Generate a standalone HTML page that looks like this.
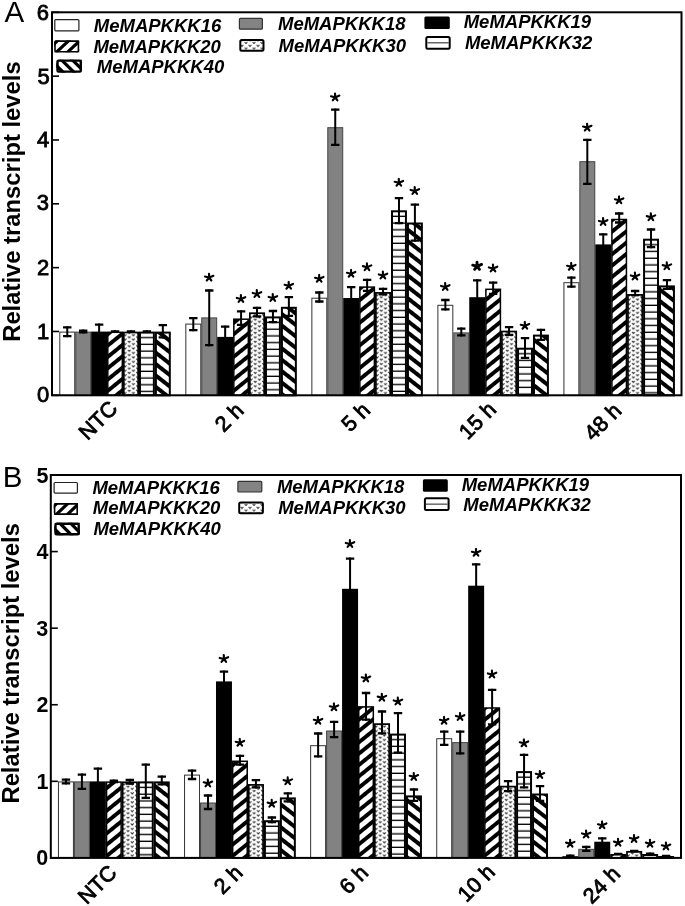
<!DOCTYPE html><html><head><meta charset="utf-8"><style>html,body{margin:0;padding:0;background:#fff;width:685px;height:906px;overflow:hidden}svg{position:absolute;left:0;top:0;display:block;will-change:transform}text{font-family:"Liberation Sans", sans-serif}</style></head><body>
<svg width="685" height="906" viewBox="0 0 685 906">
<defs>
<pattern id="pd" patternUnits="userSpaceOnUse" width="20" height="8.8" patternTransform="rotate(-39)"><rect width="20" height="8.8" fill="#fff"/><rect y="0" width="20" height="3.9" fill="#000"/></pattern>
<pattern id="pb" patternUnits="userSpaceOnUse" width="20" height="9.0" patternTransform="rotate(38)"><rect width="20" height="9.0" fill="#fff"/><rect y="0" width="20" height="4.0" fill="#000"/></pattern>
<pattern id="ph" patternUnits="userSpaceOnUse" width="16" height="6.73"><rect width="16" height="6.73" fill="#fff"/><rect y="1.8" width="16" height="1.5" fill="#111"/></pattern>
<pattern id="pdot" patternUnits="userSpaceOnUse" width="9.2" height="4.45"><rect width="9.2" height="4.45" fill="#fff"/><path d="M0.9,0.4 L2.3,2.2 L3.7,0.4 M5.5,2.6 L6.9,4.4 L8.3,2.6" stroke="#222" stroke-width="1.1" fill="none"/></pattern>
<pattern id="pdotl" patternUnits="userSpaceOnUse" width="8" height="5.5"><rect width="8" height="5.5" fill="#fff"/><path d="M0.6,0.8 L2,2.4 L3.4,0.8 M4.6,3.5 L6,5.1 L7.4,3.5" stroke="#333" stroke-width="1.0" fill="none"/></pattern>
</defs>
<rect x="59.80" y="332.10" width="14.93" height="63.20" fill="#fff" stroke="#333" stroke-width="1"/>
<rect x="75.73" y="332.10" width="14.93" height="63.20" fill="#828282" stroke="#444" stroke-width="1"/>
<rect x="91.16" y="331.60" width="15.93" height="63.70" fill="#000"/>
<rect x="107.79" y="332.30" width="14.53" height="63.00" fill="url(#pd)" stroke="#000" stroke-width="1.5"/>
<pattern id="pdb1" patternUnits="userSpaceOnUse" x="123.02" y="395.30" width="8.4" height="4.45"><rect x="-1" y="-1" width="11" height="7" fill="#fff"/><path d="M0.65,1.15 L2.00,2.80 L3.35,1.15 M4.85,3.35 L6.20,5.00 L7.55,3.35 M4.85,-1.10 L6.20,0.55 L7.55,-1.10 M9.05,1.15 L10.40,2.80 L11.75,1.15 " stroke="#2a2a2a" stroke-width="1.05" fill="none"/></pattern><rect x="123.82" y="332.50" width="14.33" height="62.80" fill="url(#pdb1)" stroke="#000" stroke-width="1.7"/>
<pattern id="phb2" patternUnits="userSpaceOnUse" x="0" y="331.60" width="16" height="6.73"><rect width="16" height="6.73" fill="#fff"/><rect y="5.4" width="16" height="1.7" fill="#000"/></pattern><rect x="139.95" y="332.60" width="13.93" height="62.70" fill="url(#phb2)" stroke="#000" stroke-width="2"/>
<rect x="155.88" y="332.60" width="13.93" height="62.70" fill="url(#pb)" stroke="#000" stroke-width="2"/>
<rect x="185.83" y="324.10" width="14.93" height="71.20" fill="#fff" stroke="#333" stroke-width="1"/>
<rect x="201.76" y="317.90" width="14.93" height="77.40" fill="#828282" stroke="#444" stroke-width="1"/>
<rect x="217.19" y="336.90" width="15.93" height="58.40" fill="#000"/>
<rect x="233.82" y="319.20" width="14.53" height="76.10" fill="url(#pd)" stroke="#000" stroke-width="1.5"/>
<pattern id="pdb3" patternUnits="userSpaceOnUse" x="249.05" y="395.30" width="8.4" height="4.45"><rect x="-1" y="-1" width="11" height="7" fill="#fff"/><path d="M0.65,1.15 L2.00,2.80 L3.35,1.15 M4.85,3.35 L6.20,5.00 L7.55,3.35 M4.85,-1.10 L6.20,0.55 L7.55,-1.10 M9.05,1.15 L10.40,2.80 L11.75,1.15 " stroke="#2a2a2a" stroke-width="1.05" fill="none"/></pattern><rect x="249.85" y="313.20" width="14.33" height="82.10" fill="url(#pdb3)" stroke="#000" stroke-width="1.7"/>
<pattern id="phb4" patternUnits="userSpaceOnUse" x="0" y="316.40" width="16" height="6.73"><rect width="16" height="6.73" fill="#fff"/><rect y="5.4" width="16" height="1.7" fill="#000"/></pattern><rect x="265.98" y="317.40" width="13.93" height="77.90" fill="url(#phb4)" stroke="#000" stroke-width="2"/>
<rect x="281.91" y="307.80" width="13.93" height="87.50" fill="url(#pb)" stroke="#000" stroke-width="2"/>
<rect x="311.86" y="298.20" width="14.93" height="97.10" fill="#fff" stroke="#333" stroke-width="1"/>
<rect x="327.79" y="127.70" width="14.93" height="267.60" fill="#828282" stroke="#444" stroke-width="1"/>
<rect x="343.22" y="298.00" width="15.93" height="97.30" fill="#000"/>
<rect x="359.85" y="287.10" width="14.53" height="108.20" fill="url(#pd)" stroke="#000" stroke-width="1.5"/>
<pattern id="pdb5" patternUnits="userSpaceOnUse" x="375.08" y="395.30" width="8.4" height="4.45"><rect x="-1" y="-1" width="11" height="7" fill="#fff"/><path d="M0.65,1.15 L2.00,2.80 L3.35,1.15 M4.85,3.35 L6.20,5.00 L7.55,3.35 M4.85,-1.10 L6.20,0.55 L7.55,-1.10 M9.05,1.15 L10.40,2.80 L11.75,1.15 " stroke="#2a2a2a" stroke-width="1.05" fill="none"/></pattern><rect x="375.88" y="292.90" width="14.33" height="102.40" fill="url(#pdb5)" stroke="#000" stroke-width="1.7"/>
<pattern id="phb6" patternUnits="userSpaceOnUse" x="0" y="210.30" width="16" height="6.73"><rect width="16" height="6.73" fill="#fff"/><rect y="5.4" width="16" height="1.7" fill="#000"/></pattern><rect x="392.01" y="211.30" width="13.93" height="184.00" fill="url(#phb6)" stroke="#000" stroke-width="2"/>
<rect x="407.94" y="223.50" width="13.93" height="171.80" fill="url(#pb)" stroke="#000" stroke-width="2"/>
<rect x="437.89" y="305.30" width="14.93" height="90.00" fill="#fff" stroke="#333" stroke-width="1"/>
<rect x="453.82" y="332.90" width="14.93" height="62.40" fill="#828282" stroke="#444" stroke-width="1"/>
<rect x="469.25" y="297.20" width="15.93" height="98.10" fill="#000"/>
<rect x="485.88" y="289.30" width="14.53" height="106.00" fill="url(#pd)" stroke="#000" stroke-width="1.5"/>
<pattern id="pdb7" patternUnits="userSpaceOnUse" x="501.11" y="395.30" width="8.4" height="4.45"><rect x="-1" y="-1" width="11" height="7" fill="#fff"/><path d="M0.65,1.15 L2.00,2.80 L3.35,1.15 M4.85,3.35 L6.20,5.00 L7.55,3.35 M4.85,-1.10 L6.20,0.55 L7.55,-1.10 M9.05,1.15 L10.40,2.80 L11.75,1.15 " stroke="#2a2a2a" stroke-width="1.05" fill="none"/></pattern><rect x="501.91" y="331.50" width="14.33" height="63.80" fill="url(#pdb7)" stroke="#000" stroke-width="1.7"/>
<pattern id="phb8" patternUnits="userSpaceOnUse" x="0" y="347.70" width="16" height="6.73"><rect width="16" height="6.73" fill="#fff"/><rect y="5.4" width="16" height="1.7" fill="#000"/></pattern><rect x="518.04" y="348.70" width="13.93" height="46.60" fill="url(#phb8)" stroke="#000" stroke-width="2"/>
<rect x="533.97" y="335.60" width="13.93" height="59.70" fill="url(#pb)" stroke="#000" stroke-width="2"/>
<rect x="563.92" y="282.70" width="14.93" height="112.60" fill="#fff" stroke="#333" stroke-width="1"/>
<rect x="579.85" y="161.70" width="14.93" height="233.60" fill="#828282" stroke="#444" stroke-width="1"/>
<rect x="595.28" y="244.40" width="15.93" height="150.90" fill="#000"/>
<rect x="611.91" y="219.50" width="14.53" height="175.80" fill="url(#pd)" stroke="#000" stroke-width="1.5"/>
<pattern id="pdb9" patternUnits="userSpaceOnUse" x="627.14" y="395.30" width="8.4" height="4.45"><rect x="-1" y="-1" width="11" height="7" fill="#fff"/><path d="M0.65,1.15 L2.00,2.80 L3.35,1.15 M4.85,3.35 L6.20,5.00 L7.55,3.35 M4.85,-1.10 L6.20,0.55 L7.55,-1.10 M9.05,1.15 L10.40,2.80 L11.75,1.15 " stroke="#2a2a2a" stroke-width="1.05" fill="none"/></pattern><rect x="627.94" y="294.90" width="14.33" height="100.40" fill="url(#pdb9)" stroke="#000" stroke-width="1.7"/>
<pattern id="phb10" patternUnits="userSpaceOnUse" x="0" y="238.70" width="16" height="6.73"><rect width="16" height="6.73" fill="#fff"/><rect y="5.4" width="16" height="1.7" fill="#000"/></pattern><rect x="644.07" y="239.70" width="13.93" height="155.60" fill="url(#phb10)" stroke="#000" stroke-width="2"/>
<rect x="660.00" y="286.40" width="13.93" height="108.90" fill="url(#pb)" stroke="#000" stroke-width="2"/>
<path d="M67.27,326.20 V337.20" stroke="#000" stroke-width="2.0" fill="none"/><path d="M63.06,327.30 h8.4 M63.06,336.10 h8.4" stroke="#000" stroke-width="2.3" fill="none"/>
<path d="M83.19,329.50 V333.50" stroke="#000" stroke-width="2.0" fill="none"/><path d="M78.99,330.60 h8.4 M78.99,332.40 h8.4" stroke="#000" stroke-width="2.3" fill="none"/>
<path d="M99.12,323.50 V339.50" stroke="#000" stroke-width="2.0" fill="none"/><path d="M94.92,324.60 h8.4 M94.92,338.40 h8.4" stroke="#000" stroke-width="2.3" fill="none"/>
<path d="M115.06,330.20 V333.00" stroke="#000" stroke-width="2.0" fill="none"/><path d="M110.86,331.30 h8.4 M110.86,331.90 h8.4" stroke="#000" stroke-width="2.3" fill="none"/>
<path d="M130.98,330.20 V333.00" stroke="#000" stroke-width="2.0" fill="none"/><path d="M126.78,331.30 h8.4 M126.78,331.90 h8.4" stroke="#000" stroke-width="2.3" fill="none"/>
<path d="M146.91,330.20 V333.00" stroke="#000" stroke-width="2.0" fill="none"/><path d="M142.72,331.30 h8.4 M142.72,331.90 h8.4" stroke="#000" stroke-width="2.3" fill="none"/>
<path d="M162.84,324.00 V338.50" stroke="#000" stroke-width="2.0" fill="none"/><path d="M158.65,325.10 h8.4 M158.65,337.40 h8.4" stroke="#000" stroke-width="2.3" fill="none"/>
<path d="M193.29,317.00 V331.30" stroke="#000" stroke-width="2.0" fill="none"/><path d="M189.09,318.10 h8.4 M189.09,330.20 h8.4" stroke="#000" stroke-width="2.3" fill="none"/>
<path d="M209.22,289.40 V346.30" stroke="#000" stroke-width="2.0" fill="none"/><path d="M205.03,290.50 h8.4 M205.03,345.20 h8.4" stroke="#000" stroke-width="2.3" fill="none"/>
<path d="M209.22,277.60 l-0.21,-3.85 M209.22,277.60 l-4.28,-1.07 M209.22,277.60 l4.17,-1.82 M209.22,277.60 l-2.46,2.89 M209.22,277.60 l2.14,2.89 " stroke="#000" stroke-width="2.15" stroke-linecap="round" fill="none"/>
<path d="M225.16,325.60 V348.00" stroke="#000" stroke-width="2.0" fill="none"/><path d="M220.96,326.70 h8.4 M220.96,346.90 h8.4" stroke="#000" stroke-width="2.3" fill="none"/>
<path d="M241.08,310.30 V326.00" stroke="#000" stroke-width="2.0" fill="none"/><path d="M236.88,311.40 h8.4 M236.88,324.90 h8.4" stroke="#000" stroke-width="2.3" fill="none"/>
<path d="M241.08,299.00 l-0.21,-3.85 M241.08,299.00 l-4.28,-1.07 M241.08,299.00 l4.17,-1.82 M241.08,299.00 l-2.46,2.89 M241.08,299.00 l2.14,2.89 " stroke="#000" stroke-width="2.15" stroke-linecap="round" fill="none"/>
<path d="M257.01,306.80 V317.40" stroke="#000" stroke-width="2.0" fill="none"/><path d="M252.81,307.90 h8.4 M252.81,316.30 h8.4" stroke="#000" stroke-width="2.3" fill="none"/>
<path d="M257.01,294.00 l-0.21,-3.85 M257.01,294.00 l-4.28,-1.07 M257.01,294.00 l4.17,-1.82 M257.01,294.00 l-2.46,2.89 M257.01,294.00 l2.14,2.89 " stroke="#000" stroke-width="2.15" stroke-linecap="round" fill="none"/>
<path d="M272.94,309.90 V323.20" stroke="#000" stroke-width="2.0" fill="none"/><path d="M268.75,311.00 h8.4 M268.75,322.10 h8.4" stroke="#000" stroke-width="2.3" fill="none"/>
<path d="M272.94,298.00 l-0.21,-3.85 M272.94,298.00 l-4.28,-1.07 M272.94,298.00 l4.17,-1.82 M272.94,298.00 l-2.46,2.89 M272.94,298.00 l2.14,2.89 " stroke="#000" stroke-width="2.15" stroke-linecap="round" fill="none"/>
<path d="M288.87,296.00 V317.00" stroke="#000" stroke-width="2.0" fill="none"/><path d="M284.67,297.10 h8.4 M284.67,315.90 h8.4" stroke="#000" stroke-width="2.3" fill="none"/>
<path d="M288.87,285.80 l-0.21,-3.85 M288.87,285.80 l-4.28,-1.07 M288.87,285.80 l4.17,-1.82 M288.87,285.80 l-2.46,2.89 M288.87,285.80 l2.14,2.89 " stroke="#000" stroke-width="2.15" stroke-linecap="round" fill="none"/>
<path d="M319.32,291.40 V302.60" stroke="#000" stroke-width="2.0" fill="none"/><path d="M315.12,292.50 h8.4 M315.12,301.50 h8.4" stroke="#000" stroke-width="2.3" fill="none"/>
<path d="M319.32,278.80 l-0.21,-3.85 M319.32,278.80 l-4.28,-1.07 M319.32,278.80 l4.17,-1.82 M319.32,278.80 l-2.46,2.89 M319.32,278.80 l2.14,2.89 " stroke="#000" stroke-width="2.15" stroke-linecap="round" fill="none"/>
<path d="M335.25,108.50 V146.00" stroke="#000" stroke-width="2.0" fill="none"/><path d="M331.06,109.60 h8.4 M331.06,144.90 h8.4" stroke="#000" stroke-width="2.3" fill="none"/>
<path d="M335.25,97.40 l-0.21,-3.85 M335.25,97.40 l-4.28,-1.07 M335.25,97.40 l4.17,-1.82 M335.25,97.40 l-2.46,2.89 M335.25,97.40 l2.14,2.89 " stroke="#000" stroke-width="2.15" stroke-linecap="round" fill="none"/>
<path d="M351.19,286.10 V310.00" stroke="#000" stroke-width="2.0" fill="none"/><path d="M346.99,287.20 h8.4 M346.99,308.90 h8.4" stroke="#000" stroke-width="2.3" fill="none"/>
<path d="M351.19,273.80 l-0.21,-3.85 M351.19,273.80 l-4.28,-1.07 M351.19,273.80 l4.17,-1.82 M351.19,273.80 l-2.46,2.89 M351.19,273.80 l2.14,2.89 " stroke="#000" stroke-width="2.15" stroke-linecap="round" fill="none"/>
<path d="M367.12,278.80 V292.00" stroke="#000" stroke-width="2.0" fill="none"/><path d="M362.92,279.90 h8.4 M362.92,290.90 h8.4" stroke="#000" stroke-width="2.3" fill="none"/>
<path d="M367.12,267.20 l-0.21,-3.85 M367.12,267.20 l-4.28,-1.07 M367.12,267.20 l4.17,-1.82 M367.12,267.20 l-2.46,2.89 M367.12,267.20 l2.14,2.89 " stroke="#000" stroke-width="2.15" stroke-linecap="round" fill="none"/>
<path d="M383.05,287.70 V295.40" stroke="#000" stroke-width="2.0" fill="none"/><path d="M378.85,288.80 h8.4 M378.85,294.30 h8.4" stroke="#000" stroke-width="2.3" fill="none"/>
<path d="M383.05,275.50 l-0.21,-3.85 M383.05,275.50 l-4.28,-1.07 M383.05,275.50 l4.17,-1.82 M383.05,275.50 l-2.46,2.89 M383.05,275.50 l2.14,2.89 " stroke="#000" stroke-width="2.15" stroke-linecap="round" fill="none"/>
<path d="M398.97,197.00 V224.20" stroke="#000" stroke-width="2.0" fill="none"/><path d="M394.77,198.10 h8.4 M394.77,223.10 h8.4" stroke="#000" stroke-width="2.3" fill="none"/>
<path d="M398.97,182.80 l-0.21,-3.85 M398.97,182.80 l-4.28,-1.07 M398.97,182.80 l4.17,-1.82 M398.97,182.80 l-2.46,2.89 M398.97,182.80 l2.14,2.89 " stroke="#000" stroke-width="2.15" stroke-linecap="round" fill="none"/>
<path d="M414.90,203.60 V241.70" stroke="#000" stroke-width="2.0" fill="none"/><path d="M410.70,204.70 h8.4 M410.70,240.60 h8.4" stroke="#000" stroke-width="2.3" fill="none"/>
<path d="M414.90,191.00 l-0.21,-3.85 M414.90,191.00 l-4.28,-1.07 M414.90,191.00 l4.17,-1.82 M414.90,191.00 l-2.46,2.89 M414.90,191.00 l2.14,2.89 " stroke="#000" stroke-width="2.15" stroke-linecap="round" fill="none"/>
<path d="M445.36,298.90 V310.50" stroke="#000" stroke-width="2.0" fill="none"/><path d="M441.16,300.00 h8.4 M441.16,309.40 h8.4" stroke="#000" stroke-width="2.3" fill="none"/>
<path d="M445.36,287.00 l-0.21,-3.85 M445.36,287.00 l-4.28,-1.07 M445.36,287.00 l4.17,-1.82 M445.36,287.00 l-2.46,2.89 M445.36,287.00 l2.14,2.89 " stroke="#000" stroke-width="2.15" stroke-linecap="round" fill="none"/>
<path d="M461.29,327.50 V336.50" stroke="#000" stroke-width="2.0" fill="none"/><path d="M457.09,328.60 h8.4 M457.09,335.40 h8.4" stroke="#000" stroke-width="2.3" fill="none"/>
<path d="M477.22,279.20 V315.00" stroke="#000" stroke-width="2.0" fill="none"/><path d="M473.02,280.30 h8.4 M473.02,313.90 h8.4" stroke="#000" stroke-width="2.3" fill="none"/>
<path d="M477.22,266.30 l-0.22,-4.03 M477.22,266.30 l-4.48,-1.12 M477.22,266.30 l4.37,-1.90 M477.22,266.30 l-2.58,3.02 M477.22,266.30 l2.24,3.02 " stroke="#000" stroke-width="2.9" stroke-linecap="round" fill="none"/>
<path d="M493.15,281.50 V295.00" stroke="#000" stroke-width="2.0" fill="none"/><path d="M488.95,282.60 h8.4 M488.95,293.90 h8.4" stroke="#000" stroke-width="2.3" fill="none"/>
<path d="M493.15,268.50 l-0.21,-3.85 M493.15,268.50 l-4.28,-1.07 M493.15,268.50 l4.17,-1.82 M493.15,268.50 l-2.46,2.89 M493.15,268.50 l2.14,2.89 " stroke="#000" stroke-width="2.15" stroke-linecap="round" fill="none"/>
<path d="M509.07,326.00 V336.00" stroke="#000" stroke-width="2.0" fill="none"/><path d="M504.88,327.10 h8.4 M504.88,334.90 h8.4" stroke="#000" stroke-width="2.3" fill="none"/>
<path d="M525.01,337.00 V359.00" stroke="#000" stroke-width="2.0" fill="none"/><path d="M520.81,338.10 h8.4 M520.81,357.90 h8.4" stroke="#000" stroke-width="2.3" fill="none"/>
<path d="M525.01,325.80 l-0.21,-3.85 M525.01,325.80 l-4.28,-1.07 M525.01,325.80 l4.17,-1.82 M525.01,325.80 l-2.46,2.89 M525.01,325.80 l2.14,2.89 " stroke="#000" stroke-width="2.15" stroke-linecap="round" fill="none"/>
<path d="M540.94,328.80 V341.00" stroke="#000" stroke-width="2.0" fill="none"/><path d="M536.74,329.90 h8.4 M536.74,339.90 h8.4" stroke="#000" stroke-width="2.3" fill="none"/>
<path d="M571.38,276.50 V287.70" stroke="#000" stroke-width="2.0" fill="none"/><path d="M567.18,277.60 h8.4 M567.18,286.60 h8.4" stroke="#000" stroke-width="2.3" fill="none"/>
<path d="M571.38,266.80 l-0.21,-3.85 M571.38,266.80 l-4.28,-1.07 M571.38,266.80 l4.17,-1.82 M571.38,266.80 l-2.46,2.89 M571.38,266.80 l2.14,2.89 " stroke="#000" stroke-width="2.15" stroke-linecap="round" fill="none"/>
<path d="M587.31,138.80 V185.00" stroke="#000" stroke-width="2.0" fill="none"/><path d="M583.11,139.90 h8.4 M583.11,183.90 h8.4" stroke="#000" stroke-width="2.3" fill="none"/>
<path d="M587.31,127.60 l-0.21,-3.85 M587.31,127.60 l-4.28,-1.07 M587.31,127.60 l4.17,-1.82 M587.31,127.60 l-2.46,2.89 M587.31,127.60 l2.14,2.89 " stroke="#000" stroke-width="2.15" stroke-linecap="round" fill="none"/>
<path d="M603.25,233.20 V255.00" stroke="#000" stroke-width="2.0" fill="none"/><path d="M599.04,234.30 h8.4 M599.04,253.90 h8.4" stroke="#000" stroke-width="2.3" fill="none"/>
<path d="M603.25,222.00 l-0.21,-3.85 M603.25,222.00 l-4.28,-1.07 M603.25,222.00 l4.17,-1.82 M603.25,222.00 l-2.46,2.89 M603.25,222.00 l2.14,2.89 " stroke="#000" stroke-width="2.15" stroke-linecap="round" fill="none"/>
<path d="M619.17,212.40 V223.60" stroke="#000" stroke-width="2.0" fill="none"/><path d="M614.97,213.50 h8.4 M614.97,222.50 h8.4" stroke="#000" stroke-width="2.3" fill="none"/>
<path d="M619.17,200.30 l-0.21,-3.85 M619.17,200.30 l-4.28,-1.07 M619.17,200.30 l4.17,-1.82 M619.17,200.30 l-2.46,2.89 M619.17,200.30 l2.14,2.89 " stroke="#000" stroke-width="2.15" stroke-linecap="round" fill="none"/>
<path d="M635.11,289.90 V296.30" stroke="#000" stroke-width="2.0" fill="none"/><path d="M630.90,291.00 h8.4 M630.90,295.20 h8.4" stroke="#000" stroke-width="2.3" fill="none"/>
<path d="M635.11,276.50 l-0.21,-3.85 M635.11,276.50 l-4.28,-1.07 M635.11,276.50 l4.17,-1.82 M635.11,276.50 l-2.46,2.89 M635.11,276.50 l2.14,2.89 " stroke="#000" stroke-width="2.15" stroke-linecap="round" fill="none"/>
<path d="M651.03,228.40 V248.30" stroke="#000" stroke-width="2.0" fill="none"/><path d="M646.83,229.50 h8.4 M646.83,247.20 h8.4" stroke="#000" stroke-width="2.3" fill="none"/>
<path d="M651.03,217.20 l-0.21,-3.85 M651.03,217.20 l-4.28,-1.07 M651.03,217.20 l4.17,-1.82 M651.03,217.20 l-2.46,2.89 M651.03,217.20 l2.14,2.89 " stroke="#000" stroke-width="2.15" stroke-linecap="round" fill="none"/>
<path d="M666.97,279.00 V290.00" stroke="#000" stroke-width="2.0" fill="none"/><path d="M662.76,280.10 h8.4 M662.76,288.90 h8.4" stroke="#000" stroke-width="2.3" fill="none"/>
<path d="M666.97,266.20 l-0.21,-3.85 M666.97,266.20 l-4.28,-1.07 M666.97,266.20 l4.17,-1.82 M666.97,266.20 l-2.46,2.89 M666.97,266.20 l2.14,2.89 " stroke="#000" stroke-width="2.15" stroke-linecap="round" fill="none"/>
<rect x="52.00" y="12.30" width="629.50" height="383.00" fill="none" stroke="#000" stroke-width="2"/>
<line x1="52.00" x2="59.00" y1="395.30" y2="395.30" stroke="#000" stroke-width="1.6"/>
<text x="49.30" y="402.20" font-size="22" font-weight="normal" stroke="#000" stroke-width="0.8" text-anchor="end">0</text>
<line x1="52.00" x2="59.00" y1="331.47" y2="331.47" stroke="#000" stroke-width="1.6"/>
<text x="49.20" y="338.60" font-size="22" font-weight="normal" stroke="#000" stroke-width="0.8" text-anchor="end">1</text>
<line x1="52.00" x2="59.00" y1="267.64" y2="267.64" stroke="#000" stroke-width="1.6"/>
<text x="49.20" y="274.76" font-size="22" font-weight="normal" stroke="#000" stroke-width="0.8" text-anchor="end">2</text>
<line x1="52.00" x2="59.00" y1="203.81" y2="203.81" stroke="#000" stroke-width="1.6"/>
<text x="48.90" y="210.41" font-size="22" font-weight="normal" stroke="#000" stroke-width="0.8" text-anchor="end">3</text>
<line x1="52.00" x2="59.00" y1="139.98" y2="139.98" stroke="#000" stroke-width="1.6"/>
<text x="49.20" y="147.11" font-size="22" font-weight="normal" stroke="#000" stroke-width="0.8" text-anchor="end">4</text>
<line x1="52.00" x2="59.00" y1="76.15" y2="76.15" stroke="#000" stroke-width="1.6"/>
<text x="49.70" y="83.75" font-size="22" font-weight="normal" stroke="#000" stroke-width="0.8" text-anchor="end">5</text>
<line x1="52.00" x2="59.00" y1="12.32" y2="12.32" stroke="#000" stroke-width="1.6"/>
<text x="48.90" y="19.72" font-size="22" font-weight="normal" stroke="#000" stroke-width="0.8" text-anchor="end">6</text>
<text x="4.40" y="21.55" font-size="29.5">A</text>
<text transform="translate(20.10,201.60) rotate(-90)" font-size="23.8" font-weight="bold" text-anchor="middle">Relative transcript levels</text>
<rect x="54.80" y="19.60" width="24.10" height="11.30" fill="#fff" stroke="#222" stroke-width="1.2" rx="1"/>
<text x="93.80" y="31.50" font-size="18.5" font-weight="bold" font-style="italic">MeMAPKKK16</text>
<clipPath id="sw1"><rect x="54.20" y="40.30" width="25.00" height="12.20"/></clipPath><rect x="54.20" y="40.30" width="25.00" height="12.20" fill="#fff"/><path clip-path="url(#sw1)" d="M9.40,52.50 L14.00,52.50 L27.08,40.30 L22.48,40.30ZM20.50,52.50 L25.10,52.50 L38.18,40.30 L33.58,40.30ZM31.60,52.50 L36.20,52.50 L49.28,40.30 L44.68,40.30ZM42.70,52.50 L47.30,52.50 L60.38,40.30 L55.78,40.30ZM53.80,52.50 L58.40,52.50 L71.48,40.30 L66.88,40.30ZM64.90,52.50 L69.50,52.50 L82.58,40.30 L77.98,40.30ZM76.00,52.50 L80.60,52.50 L93.68,40.30 L89.08,40.30ZM87.10,52.50 L91.70,52.50 L104.78,40.30 L100.18,40.30ZM98.20,52.50 L102.80,52.50 L115.88,40.30 L111.28,40.30ZM109.30,52.50 L113.90,52.50 L126.98,40.30 L122.38,40.30Z" fill="#000"/><rect x="55.00" y="41.10" width="23.40" height="10.60" fill="none" stroke="#000" stroke-width="1.6" rx="1"/>
<text x="93.40" y="52.50" font-size="18.5" font-weight="bold" font-style="italic">MeMAPKKK20</text>
<clipPath id="sw2"><rect x="56.30" y="59.40" width="25.70" height="13.40"/></clipPath><rect x="56.30" y="59.40" width="25.70" height="13.40" fill="#fff"/><path clip-path="url(#sw2)" d="M15.60,59.40 L20.20,59.40 L33.60,72.80 L29.00,72.80ZM26.40,59.40 L31.00,59.40 L44.40,72.80 L39.80,72.80ZM37.20,59.40 L41.80,59.40 L55.20,72.80 L50.60,72.80ZM48.00,59.40 L52.60,59.40 L66.00,72.80 L61.40,72.80ZM58.80,59.40 L63.40,59.40 L76.80,72.80 L72.20,72.80ZM69.60,59.40 L74.20,59.40 L87.60,72.80 L83.00,72.80ZM80.40,59.40 L85.00,59.40 L98.40,72.80 L93.80,72.80ZM91.20,59.40 L95.80,59.40 L109.20,72.80 L104.60,72.80ZM102.00,59.40 L106.60,59.40 L120.00,72.80 L115.40,72.80ZM112.80,59.40 L117.40,59.40 L130.80,72.80 L126.20,72.80Z" fill="#000"/><rect x="57.50" y="60.60" width="23.30" height="11.00" fill="none" stroke="#000" stroke-width="2.4" rx="1"/>
<text x="96.80" y="72.60" font-size="18.5" font-weight="bold" font-style="italic">MeMAPKKK40</text>
<rect x="239.40" y="18.40" width="23.00" height="10.80" fill="#838383" stroke="#333" stroke-width="1.2" rx="1"/>
<text x="278.00" y="29.70" font-size="18.5" font-weight="bold" font-style="italic">MeMAPKKK18</text>
<rect x="240.30" y="39.90" width="23.20" height="10.80" fill="url(#pdotl)" stroke="#000" stroke-width="2" rx="1.5"/>
<text x="278.50" y="51.50" font-size="18.5" font-weight="bold" font-style="italic">MeMAPKKK30</text>
<rect x="424.40" y="16.40" width="25.40" height="12.50" fill="#000" rx="1.5"/>
<text x="463.70" y="27.70" font-size="18.5" font-weight="bold" font-style="italic">MeMAPKKK19</text>
<rect x="426.30" y="36.90" width="23.40" height="11.80" fill="#fff" stroke="#000" stroke-width="2" rx="1.5"/><rect x="427.30" y="42.20" width="21.40" height="1.2" fill="#444"/>
<text x="464.90" y="49.00" font-size="18.5" font-weight="bold" font-style="italic">MeMAPKKK32</text>
<text transform="translate(118.85,409.75) rotate(-45)" font-size="21.5" font-weight="normal" stroke="#000" stroke-width="0.85" text-anchor="end">NTC</text>
<text transform="translate(245.00,411.80) rotate(-45)" font-size="21.5" font-weight="normal" stroke="#000" stroke-width="0.85" text-anchor="end">2 h</text>
<text transform="translate(371.40,411.65) rotate(-45)" font-size="21.5" font-weight="normal" stroke="#000" stroke-width="0.85" text-anchor="end">5 h</text>
<text transform="translate(497.35,410.80) rotate(-45)" font-size="21.5" font-weight="normal" stroke="#000" stroke-width="0.85" text-anchor="end">15 h</text>
<text transform="translate(622.70,412.15) rotate(-45)" font-size="21.5" font-weight="normal" stroke="#000" stroke-width="0.85" text-anchor="end">48 h</text>
<rect x="58.46" y="781.90" width="14.97" height="76.00" fill="#fff" stroke="#333" stroke-width="1"/>
<rect x="74.43" y="781.90" width="14.97" height="76.00" fill="#828282" stroke="#444" stroke-width="1"/>
<rect x="89.90" y="781.40" width="15.97" height="76.50" fill="#000"/>
<rect x="106.57" y="782.10" width="14.57" height="75.80" fill="url(#pd)" stroke="#000" stroke-width="1.5"/>
<pattern id="pdb11" patternUnits="userSpaceOnUse" x="121.84" y="857.90" width="8.4" height="4.45"><rect x="-1" y="-1" width="11" height="7" fill="#fff"/><path d="M0.65,1.15 L2.00,2.80 L3.35,1.15 M4.85,3.35 L6.20,5.00 L7.55,3.35 M4.85,-1.10 L6.20,0.55 L7.55,-1.10 M9.05,1.15 L10.40,2.80 L11.75,1.15 " stroke="#2a2a2a" stroke-width="1.05" fill="none"/></pattern><rect x="122.64" y="782.30" width="14.37" height="75.60" fill="url(#pdb11)" stroke="#000" stroke-width="1.7"/>
<pattern id="phb12" patternUnits="userSpaceOnUse" x="0" y="781.40" width="16" height="6.73"><rect width="16" height="6.73" fill="#fff"/><rect y="5.4" width="16" height="1.7" fill="#000"/></pattern><rect x="138.81" y="782.40" width="13.97" height="75.50" fill="url(#phb12)" stroke="#000" stroke-width="2"/>
<rect x="154.78" y="782.40" width="13.97" height="75.50" fill="url(#pb)" stroke="#000" stroke-width="2"/>
<rect x="184.55" y="775.10" width="14.97" height="82.80" fill="#fff" stroke="#333" stroke-width="1"/>
<rect x="200.52" y="803.00" width="14.97" height="54.90" fill="#828282" stroke="#444" stroke-width="1"/>
<rect x="215.99" y="681.40" width="15.97" height="176.50" fill="#000"/>
<rect x="232.66" y="761.30" width="14.57" height="96.60" fill="url(#pd)" stroke="#000" stroke-width="1.5"/>
<pattern id="pdb13" patternUnits="userSpaceOnUse" x="247.93" y="857.90" width="8.4" height="4.45"><rect x="-1" y="-1" width="11" height="7" fill="#fff"/><path d="M0.65,1.15 L2.00,2.80 L3.35,1.15 M4.85,3.35 L6.20,5.00 L7.55,3.35 M4.85,-1.10 L6.20,0.55 L7.55,-1.10 M9.05,1.15 L10.40,2.80 L11.75,1.15 " stroke="#2a2a2a" stroke-width="1.05" fill="none"/></pattern><rect x="248.73" y="784.90" width="14.37" height="73.00" fill="url(#pdb13)" stroke="#000" stroke-width="1.7"/>
<pattern id="phb14" patternUnits="userSpaceOnUse" x="0" y="820.20" width="16" height="6.73"><rect width="16" height="6.73" fill="#fff"/><rect y="5.4" width="16" height="1.7" fill="#000"/></pattern><rect x="264.90" y="821.20" width="13.97" height="36.70" fill="url(#phb14)" stroke="#000" stroke-width="2"/>
<rect x="280.87" y="798.40" width="13.97" height="59.50" fill="url(#pb)" stroke="#000" stroke-width="2"/>
<rect x="310.64" y="745.70" width="14.97" height="112.20" fill="#fff" stroke="#333" stroke-width="1"/>
<rect x="326.61" y="731.00" width="14.97" height="126.90" fill="#828282" stroke="#444" stroke-width="1"/>
<rect x="342.08" y="588.80" width="15.97" height="269.10" fill="#000"/>
<rect x="358.75" y="706.90" width="14.57" height="151.00" fill="url(#pd)" stroke="#000" stroke-width="1.5"/>
<pattern id="pdb15" patternUnits="userSpaceOnUse" x="374.02" y="857.90" width="8.4" height="4.45"><rect x="-1" y="-1" width="11" height="7" fill="#fff"/><path d="M0.65,1.15 L2.00,2.80 L3.35,1.15 M4.85,3.35 L6.20,5.00 L7.55,3.35 M4.85,-1.10 L6.20,0.55 L7.55,-1.10 M9.05,1.15 L10.40,2.80 L11.75,1.15 " stroke="#2a2a2a" stroke-width="1.05" fill="none"/></pattern><rect x="374.82" y="724.10" width="14.37" height="133.80" fill="url(#pdb15)" stroke="#000" stroke-width="1.7"/>
<pattern id="phb16" patternUnits="userSpaceOnUse" x="0" y="733.60" width="16" height="6.73"><rect width="16" height="6.73" fill="#fff"/><rect y="5.4" width="16" height="1.7" fill="#000"/></pattern><rect x="390.99" y="734.60" width="13.97" height="123.30" fill="url(#phb16)" stroke="#000" stroke-width="2"/>
<rect x="406.96" y="796.40" width="13.97" height="61.50" fill="url(#pb)" stroke="#000" stroke-width="2"/>
<rect x="436.73" y="738.70" width="14.97" height="119.20" fill="#fff" stroke="#333" stroke-width="1"/>
<rect x="452.70" y="742.60" width="14.97" height="115.30" fill="#828282" stroke="#444" stroke-width="1"/>
<rect x="468.17" y="585.70" width="15.97" height="272.20" fill="#000"/>
<rect x="484.84" y="708.00" width="14.57" height="149.90" fill="url(#pd)" stroke="#000" stroke-width="1.5"/>
<pattern id="pdb17" patternUnits="userSpaceOnUse" x="500.11" y="857.90" width="8.4" height="4.45"><rect x="-1" y="-1" width="11" height="7" fill="#fff"/><path d="M0.65,1.15 L2.00,2.80 L3.35,1.15 M4.85,3.35 L6.20,5.00 L7.55,3.35 M4.85,-1.10 L6.20,0.55 L7.55,-1.10 M9.05,1.15 L10.40,2.80 L11.75,1.15 " stroke="#2a2a2a" stroke-width="1.05" fill="none"/></pattern><rect x="500.91" y="786.60" width="14.37" height="71.30" fill="url(#pdb17)" stroke="#000" stroke-width="1.7"/>
<pattern id="phb18" patternUnits="userSpaceOnUse" x="0" y="771.10" width="16" height="6.73"><rect width="16" height="6.73" fill="#fff"/><rect y="5.4" width="16" height="1.7" fill="#000"/></pattern><rect x="517.08" y="772.10" width="13.97" height="85.80" fill="url(#phb18)" stroke="#000" stroke-width="2"/>
<rect x="533.05" y="794.50" width="13.97" height="63.40" fill="url(#pb)" stroke="#000" stroke-width="2"/>
<rect x="562.82" y="856.50" width="14.97" height="1.40" fill="#fff" stroke="#333" stroke-width="1"/>
<rect x="578.79" y="849.30" width="14.97" height="8.60" fill="#828282" stroke="#444" stroke-width="1"/>
<rect x="594.26" y="841.70" width="15.97" height="16.20" fill="#000"/>
<rect x="610.93" y="854.70" width="14.57" height="3.20" fill="url(#pd)" stroke="#000" stroke-width="1.5"/>
<pattern id="pdb19" patternUnits="userSpaceOnUse" x="626.20" y="857.90" width="8.4" height="4.45"><rect x="-1" y="-1" width="11" height="7" fill="#fff"/><path d="M0.65,1.15 L2.00,2.80 L3.35,1.15 M4.85,3.35 L6.20,5.00 L7.55,3.35 M4.85,-1.10 L6.20,0.55 L7.55,-1.10 M9.05,1.15 L10.40,2.80 L11.75,1.15 " stroke="#2a2a2a" stroke-width="1.05" fill="none"/></pattern><rect x="627.00" y="851.80" width="14.37" height="6.10" fill="url(#pdb19)" stroke="#000" stroke-width="1.7"/>
<pattern id="phb20" patternUnits="userSpaceOnUse" x="0" y="854.00" width="16" height="6.73"><rect width="16" height="6.73" fill="#fff"/><rect y="5.4" width="16" height="1.7" fill="#000"/></pattern><rect x="643.17" y="855.00" width="13.97" height="2.90" fill="url(#phb20)" stroke="#000" stroke-width="2"/>
<rect x="659.14" y="857.00" width="13.97" height="0.90" fill="url(#pb)" stroke="#000" stroke-width="2"/>
<path d="M65.95,778.60 V784.40" stroke="#000" stroke-width="2.0" fill="none"/><path d="M61.75,779.70 h8.4 M61.75,783.30 h8.4" stroke="#000" stroke-width="2.3" fill="none"/>
<path d="M81.92,773.50 V790.00" stroke="#000" stroke-width="2.0" fill="none"/><path d="M77.72,774.60 h8.4 M77.72,788.90 h8.4" stroke="#000" stroke-width="2.3" fill="none"/>
<path d="M97.89,767.50 V795.00" stroke="#000" stroke-width="2.0" fill="none"/><path d="M93.69,768.60 h8.4 M93.69,793.90 h8.4" stroke="#000" stroke-width="2.3" fill="none"/>
<path d="M113.86,779.60 V783.20" stroke="#000" stroke-width="2.0" fill="none"/><path d="M109.66,780.70 h8.4 M109.66,782.10 h8.4" stroke="#000" stroke-width="2.3" fill="none"/>
<path d="M129.83,778.90 V784.60" stroke="#000" stroke-width="2.0" fill="none"/><path d="M125.63,780.00 h8.4 M125.63,783.50 h8.4" stroke="#000" stroke-width="2.3" fill="none"/>
<path d="M145.80,763.60 V799.00" stroke="#000" stroke-width="2.0" fill="none"/><path d="M141.60,764.70 h8.4 M141.60,797.90 h8.4" stroke="#000" stroke-width="2.3" fill="none"/>
<path d="M161.77,775.50 V785.50" stroke="#000" stroke-width="2.0" fill="none"/><path d="M157.57,776.60 h8.4 M157.57,784.40 h8.4" stroke="#000" stroke-width="2.3" fill="none"/>
<path d="M192.04,769.50 V780.10" stroke="#000" stroke-width="2.0" fill="none"/><path d="M187.84,770.60 h8.4 M187.84,779.00 h8.4" stroke="#000" stroke-width="2.3" fill="none"/>
<path d="M208.01,794.40 V810.10" stroke="#000" stroke-width="2.0" fill="none"/><path d="M203.81,795.50 h8.4 M203.81,809.00 h8.4" stroke="#000" stroke-width="2.3" fill="none"/>
<path d="M208.01,783.40 l-0.21,-3.85 M208.01,783.40 l-4.28,-1.07 M208.01,783.40 l4.17,-1.82 M208.01,783.40 l-2.46,2.89 M208.01,783.40 l2.14,2.89 " stroke="#000" stroke-width="2.15" stroke-linecap="round" fill="none"/>
<path d="M223.98,670.50 V692.00" stroke="#000" stroke-width="2.0" fill="none"/><path d="M219.78,671.60 h8.4 M219.78,690.90 h8.4" stroke="#000" stroke-width="2.3" fill="none"/>
<path d="M223.98,659.00 l-0.21,-3.85 M223.98,659.00 l-4.28,-1.07 M223.98,659.00 l4.17,-1.82 M223.98,659.00 l-2.46,2.89 M223.98,659.00 l2.14,2.89 " stroke="#000" stroke-width="2.15" stroke-linecap="round" fill="none"/>
<path d="M239.95,754.70 V765.70" stroke="#000" stroke-width="2.0" fill="none"/><path d="M235.75,755.80 h8.4 M235.75,764.60 h8.4" stroke="#000" stroke-width="2.3" fill="none"/>
<path d="M239.95,742.80 l-0.21,-3.85 M239.95,742.80 l-4.28,-1.07 M239.95,742.80 l4.17,-1.82 M239.95,742.80 l-2.46,2.89 M239.95,742.80 l2.14,2.89 " stroke="#000" stroke-width="2.15" stroke-linecap="round" fill="none"/>
<path d="M255.92,779.10 V788.50" stroke="#000" stroke-width="2.0" fill="none"/><path d="M251.72,780.20 h8.4 M251.72,787.40 h8.4" stroke="#000" stroke-width="2.3" fill="none"/>
<path d="M271.89,816.40 V823.30" stroke="#000" stroke-width="2.0" fill="none"/><path d="M267.69,817.50 h8.4 M267.69,822.20 h8.4" stroke="#000" stroke-width="2.3" fill="none"/>
<path d="M271.89,803.70 l-0.21,-3.85 M271.89,803.70 l-4.28,-1.07 M271.89,803.70 l4.17,-1.82 M271.89,803.70 l-2.46,2.89 M271.89,803.70 l2.14,2.89 " stroke="#000" stroke-width="2.15" stroke-linecap="round" fill="none"/>
<path d="M287.86,792.30 V802.50" stroke="#000" stroke-width="2.0" fill="none"/><path d="M283.66,793.40 h8.4 M283.66,801.40 h8.4" stroke="#000" stroke-width="2.3" fill="none"/>
<path d="M287.86,781.20 l-0.21,-3.85 M287.86,781.20 l-4.28,-1.07 M287.86,781.20 l4.17,-1.82 M287.86,781.20 l-2.46,2.89 M287.86,781.20 l2.14,2.89 " stroke="#000" stroke-width="2.15" stroke-linecap="round" fill="none"/>
<path d="M318.12,732.40 V757.50" stroke="#000" stroke-width="2.0" fill="none"/><path d="M313.93,733.50 h8.4 M313.93,756.40 h8.4" stroke="#000" stroke-width="2.3" fill="none"/>
<path d="M318.12,720.80 l-0.21,-3.85 M318.12,720.80 l-4.28,-1.07 M318.12,720.80 l4.17,-1.82 M318.12,720.80 l-2.46,2.89 M318.12,720.80 l2.14,2.89 " stroke="#000" stroke-width="2.15" stroke-linecap="round" fill="none"/>
<path d="M334.10,720.80 V738.20" stroke="#000" stroke-width="2.0" fill="none"/><path d="M329.90,721.90 h8.4 M329.90,737.10 h8.4" stroke="#000" stroke-width="2.3" fill="none"/>
<path d="M334.10,707.30 l-0.21,-3.85 M334.10,707.30 l-4.28,-1.07 M334.10,707.30 l4.17,-1.82 M334.10,707.30 l-2.46,2.89 M334.10,707.30 l2.14,2.89 " stroke="#000" stroke-width="2.15" stroke-linecap="round" fill="none"/>
<path d="M350.06,557.50 V620.00" stroke="#000" stroke-width="2.0" fill="none"/><path d="M345.87,558.60 h8.4 M345.87,618.90 h8.4" stroke="#000" stroke-width="2.3" fill="none"/>
<path d="M350.06,544.00 l-0.21,-3.85 M350.06,544.00 l-4.28,-1.07 M350.06,544.00 l4.17,-1.82 M350.06,544.00 l-2.46,2.89 M350.06,544.00 l2.14,2.89 " stroke="#000" stroke-width="2.15" stroke-linecap="round" fill="none"/>
<path d="M366.04,691.90 V720.80" stroke="#000" stroke-width="2.0" fill="none"/><path d="M361.84,693.00 h8.4 M361.84,719.70 h8.4" stroke="#000" stroke-width="2.3" fill="none"/>
<path d="M366.04,678.40 l-0.21,-3.85 M366.04,678.40 l-4.28,-1.07 M366.04,678.40 l4.17,-1.82 M366.04,678.40 l-2.46,2.89 M366.04,678.40 l2.14,2.89 " stroke="#000" stroke-width="2.15" stroke-linecap="round" fill="none"/>
<path d="M382.00,710.40 V734.40" stroke="#000" stroke-width="2.0" fill="none"/><path d="M377.81,711.50 h8.4 M377.81,733.30 h8.4" stroke="#000" stroke-width="2.3" fill="none"/>
<path d="M382.00,697.70 l-0.21,-3.85 M382.00,697.70 l-4.28,-1.07 M382.00,697.70 l4.17,-1.82 M382.00,697.70 l-2.46,2.89 M382.00,697.70 l2.14,2.89 " stroke="#000" stroke-width="2.15" stroke-linecap="round" fill="none"/>
<path d="M397.98,712.00 V753.70" stroke="#000" stroke-width="2.0" fill="none"/><path d="M393.78,713.10 h8.4 M393.78,752.60 h8.4" stroke="#000" stroke-width="2.3" fill="none"/>
<path d="M397.98,701.50 l-0.21,-3.85 M397.98,701.50 l-4.28,-1.07 M397.98,701.50 l4.17,-1.82 M397.98,701.50 l-2.46,2.89 M397.98,701.50 l2.14,2.89 " stroke="#000" stroke-width="2.15" stroke-linecap="round" fill="none"/>
<path d="M413.94,788.40 V802.00" stroke="#000" stroke-width="2.0" fill="none"/><path d="M409.75,789.50 h8.4 M409.75,800.90 h8.4" stroke="#000" stroke-width="2.3" fill="none"/>
<path d="M413.94,776.90 l-0.21,-3.85 M413.94,776.90 l-4.28,-1.07 M413.94,776.90 l4.17,-1.82 M413.94,776.90 l-2.46,2.89 M413.94,776.90 l2.14,2.89 " stroke="#000" stroke-width="2.15" stroke-linecap="round" fill="none"/>
<path d="M444.21,730.50 V746.00" stroke="#000" stroke-width="2.0" fill="none"/><path d="M440.01,731.60 h8.4 M440.01,744.90 h8.4" stroke="#000" stroke-width="2.3" fill="none"/>
<path d="M444.21,720.80 l-0.21,-3.85 M444.21,720.80 l-4.28,-1.07 M444.21,720.80 l4.17,-1.82 M444.21,720.80 l-2.46,2.89 M444.21,720.80 l2.14,2.89 " stroke="#000" stroke-width="2.15" stroke-linecap="round" fill="none"/>
<path d="M460.19,730.50 V754.50" stroke="#000" stroke-width="2.0" fill="none"/><path d="M455.99,731.60 h8.4 M455.99,753.40 h8.4" stroke="#000" stroke-width="2.3" fill="none"/>
<path d="M460.19,717.00 l-0.21,-3.85 M460.19,717.00 l-4.28,-1.07 M460.19,717.00 l4.17,-1.82 M460.19,717.00 l-2.46,2.89 M460.19,717.00 l2.14,2.89 " stroke="#000" stroke-width="2.15" stroke-linecap="round" fill="none"/>
<path d="M476.15,563.30 V608.00" stroke="#000" stroke-width="2.0" fill="none"/><path d="M471.95,564.40 h8.4 M471.95,606.90 h8.4" stroke="#000" stroke-width="2.3" fill="none"/>
<path d="M476.15,552.80 l-0.21,-3.85 M476.15,552.80 l-4.28,-1.07 M476.15,552.80 l4.17,-1.82 M476.15,552.80 l-2.46,2.89 M476.15,552.80 l2.14,2.89 " stroke="#000" stroke-width="2.15" stroke-linecap="round" fill="none"/>
<path d="M492.12,688.80 V725.50" stroke="#000" stroke-width="2.0" fill="none"/><path d="M487.93,689.90 h8.4 M487.93,724.40 h8.4" stroke="#000" stroke-width="2.3" fill="none"/>
<path d="M492.12,674.50 l-0.21,-3.85 M492.12,674.50 l-4.28,-1.07 M492.12,674.50 l4.17,-1.82 M492.12,674.50 l-2.46,2.89 M492.12,674.50 l2.14,2.89 " stroke="#000" stroke-width="2.15" stroke-linecap="round" fill="none"/>
<path d="M508.09,780.00 V792.30" stroke="#000" stroke-width="2.0" fill="none"/><path d="M503.89,781.10 h8.4 M503.89,791.20 h8.4" stroke="#000" stroke-width="2.3" fill="none"/>
<path d="M524.06,753.70 V788.40" stroke="#000" stroke-width="2.0" fill="none"/><path d="M519.86,754.80 h8.4 M519.86,787.30 h8.4" stroke="#000" stroke-width="2.3" fill="none"/>
<path d="M524.06,743.30 l-0.21,-3.85 M524.06,743.30 l-4.28,-1.07 M524.06,743.30 l4.17,-1.82 M524.06,743.30 l-2.46,2.89 M524.06,743.30 l2.14,2.89 " stroke="#000" stroke-width="2.15" stroke-linecap="round" fill="none"/>
<path d="M540.03,785.00 V802.00" stroke="#000" stroke-width="2.0" fill="none"/><path d="M535.83,786.10 h8.4 M535.83,800.90 h8.4" stroke="#000" stroke-width="2.3" fill="none"/>
<path d="M540.03,774.90 l-0.21,-3.85 M540.03,774.90 l-4.28,-1.07 M540.03,774.90 l4.17,-1.82 M540.03,774.90 l-2.46,2.89 M540.03,774.90 l2.14,2.89 " stroke="#000" stroke-width="2.15" stroke-linecap="round" fill="none"/>
<path d="M570.31,854.50 V857.00" stroke="#000" stroke-width="2.0" fill="none"/><path d="M566.11,855.60 h8.4 M566.11,855.90 h8.4" stroke="#000" stroke-width="2.3" fill="none"/>
<path d="M570.31,843.70 l-0.21,-3.85 M570.31,843.70 l-4.28,-1.07 M570.31,843.70 l4.17,-1.82 M570.31,843.70 l-2.46,2.89 M570.31,843.70 l2.14,2.89 " stroke="#000" stroke-width="2.15" stroke-linecap="round" fill="none"/>
<path d="M586.28,845.80 V851.90" stroke="#000" stroke-width="2.0" fill="none"/><path d="M582.08,846.90 h8.4 M582.08,850.80 h8.4" stroke="#000" stroke-width="2.3" fill="none"/>
<path d="M586.28,834.50 l-0.21,-3.85 M586.28,834.50 l-4.28,-1.07 M586.28,834.50 l4.17,-1.82 M586.28,834.50 l-2.46,2.89 M586.28,834.50 l2.14,2.89 " stroke="#000" stroke-width="2.15" stroke-linecap="round" fill="none"/>
<path d="M602.25,837.20 V846.00" stroke="#000" stroke-width="2.0" fill="none"/><path d="M598.05,838.30 h8.4 M598.05,844.90 h8.4" stroke="#000" stroke-width="2.3" fill="none"/>
<path d="M602.25,825.30 l-0.21,-3.85 M602.25,825.30 l-4.28,-1.07 M602.25,825.30 l4.17,-1.82 M602.25,825.30 l-2.46,2.89 M602.25,825.30 l2.14,2.89 " stroke="#000" stroke-width="2.15" stroke-linecap="round" fill="none"/>
<path d="M618.22,853.00 V855.00" stroke="#000" stroke-width="2.0" fill="none"/><path d="M614.01,854.10 h8.4 M614.01,853.90 h8.4" stroke="#000" stroke-width="2.3" fill="none"/>
<path d="M618.22,842.70 l-0.21,-3.85 M618.22,842.70 l-4.28,-1.07 M618.22,842.70 l4.17,-1.82 M618.22,842.70 l-2.46,2.89 M618.22,842.70 l2.14,2.89 " stroke="#000" stroke-width="2.15" stroke-linecap="round" fill="none"/>
<path d="M634.19,850.30 V852.00" stroke="#000" stroke-width="2.0" fill="none"/><path d="M629.99,851.40 h8.4 M629.99,850.90 h8.4" stroke="#000" stroke-width="2.3" fill="none"/>
<path d="M634.19,839.00 l-0.21,-3.85 M634.19,839.00 l-4.28,-1.07 M634.19,839.00 l4.17,-1.82 M634.19,839.00 l-2.46,2.89 M634.19,839.00 l2.14,2.89 " stroke="#000" stroke-width="2.15" stroke-linecap="round" fill="none"/>
<path d="M650.16,852.50 V855.00" stroke="#000" stroke-width="2.0" fill="none"/><path d="M645.96,853.60 h8.4 M645.96,853.90 h8.4" stroke="#000" stroke-width="2.3" fill="none"/>
<path d="M650.16,843.70 l-0.21,-3.85 M650.16,843.70 l-4.28,-1.07 M650.16,843.70 l4.17,-1.82 M650.16,843.70 l-2.46,2.89 M650.16,843.70 l2.14,2.89 " stroke="#000" stroke-width="2.15" stroke-linecap="round" fill="none"/>
<path d="M666.13,855.00 V857.00" stroke="#000" stroke-width="2.0" fill="none"/><path d="M661.93,856.10 h8.4 M661.93,855.90 h8.4" stroke="#000" stroke-width="2.3" fill="none"/>
<path d="M666.13,846.40 l-0.21,-3.85 M666.13,846.40 l-4.28,-1.07 M666.13,846.40 l4.17,-1.82 M666.13,846.40 l-2.46,2.89 M666.13,846.40 l2.14,2.89 " stroke="#000" stroke-width="2.15" stroke-linecap="round" fill="none"/>
<rect x="50.80" y="475.00" width="630.20" height="382.90" fill="none" stroke="#000" stroke-width="2"/>
<line x1="50.80" x2="57.80" y1="857.90" y2="857.90" stroke="#000" stroke-width="1.6"/>
<text x="48.30" y="865.40" font-size="21.5" font-weight="bold"  text-anchor="end">0</text>
<line x1="50.80" x2="57.80" y1="781.32" y2="781.32" stroke="#000" stroke-width="1.6"/>
<text x="48.37" y="788.95" font-size="21.5" font-weight="bold"  text-anchor="end">1</text>
<line x1="50.80" x2="57.80" y1="704.74" y2="704.74" stroke="#000" stroke-width="1.6"/>
<text x="48.37" y="712.37" font-size="21.5" font-weight="bold"  text-anchor="end">2</text>
<line x1="50.80" x2="57.80" y1="628.16" y2="628.16" stroke="#000" stroke-width="1.6"/>
<text x="48.30" y="635.76" font-size="21.5" font-weight="bold"  text-anchor="end">3</text>
<line x1="50.80" x2="57.80" y1="551.58" y2="551.58" stroke="#000" stroke-width="1.6"/>
<text x="48.37" y="559.21" font-size="21.5" font-weight="bold"  text-anchor="end">4</text>
<line x1="50.80" x2="57.80" y1="475.00" y2="475.00" stroke="#000" stroke-width="1.6"/>
<text x="48.50" y="482.80" font-size="21.5" font-weight="bold"  text-anchor="end">5</text>
<text x="2.70" y="487.10" font-size="29.5">B</text>
<text transform="translate(19.00,663.35) rotate(-90)" font-size="23.8" font-weight="bold" text-anchor="middle">Relative transcript levels</text>
<rect x="54.10" y="482.50" width="23.30" height="10.60" fill="#fff" stroke="#222" stroke-width="1.2" rx="1"/>
<text x="92.40" y="494.20" font-size="18.5" font-weight="bold" font-style="italic">MeMAPKKK16</text>
<clipPath id="sw3"><rect x="53.80" y="503.10" width="24.20" height="11.80"/></clipPath><rect x="53.80" y="503.10" width="24.20" height="11.80" fill="#fff"/><path clip-path="url(#sw3)" d="M9.00,514.90 L13.60,514.90 L26.25,503.10 L21.65,503.10ZM20.10,514.90 L24.70,514.90 L37.35,503.10 L32.75,503.10ZM31.20,514.90 L35.80,514.90 L48.45,503.10 L43.85,503.10ZM42.30,514.90 L46.90,514.90 L59.55,503.10 L54.95,503.10ZM53.40,514.90 L58.00,514.90 L70.65,503.10 L66.05,503.10ZM64.50,514.90 L69.10,514.90 L81.75,503.10 L77.15,503.10ZM75.60,514.90 L80.20,514.90 L92.85,503.10 L88.25,503.10ZM86.70,514.90 L91.30,514.90 L103.95,503.10 L99.35,503.10ZM97.80,514.90 L102.40,514.90 L115.05,503.10 L110.45,503.10ZM108.90,514.90 L113.50,514.90 L126.15,503.10 L121.55,503.10Z" fill="#000"/><rect x="54.60" y="503.90" width="22.60" height="10.20" fill="none" stroke="#000" stroke-width="1.6" rx="1"/>
<text x="92.80" y="514.40" font-size="18.5" font-weight="bold" font-style="italic">MeMAPKKK20</text>
<clipPath id="sw4"><rect x="54.30" y="522.60" width="25.60" height="12.80"/></clipPath><rect x="54.30" y="522.60" width="25.60" height="12.80" fill="#fff"/><path clip-path="url(#sw4)" d="M13.60,522.60 L18.20,522.60 L31.00,535.40 L26.40,535.40ZM24.40,522.60 L29.00,522.60 L41.80,535.40 L37.20,535.40ZM35.20,522.60 L39.80,522.60 L52.60,535.40 L48.00,535.40ZM46.00,522.60 L50.60,522.60 L63.40,535.40 L58.80,535.40ZM56.80,522.60 L61.40,522.60 L74.20,535.40 L69.60,535.40ZM67.60,522.60 L72.20,522.60 L85.00,535.40 L80.40,535.40ZM78.40,522.60 L83.00,522.60 L95.80,535.40 L91.20,535.40ZM89.20,522.60 L93.80,522.60 L106.60,535.40 L102.00,535.40ZM100.00,522.60 L104.60,522.60 L117.40,535.40 L112.80,535.40ZM110.80,522.60 L115.40,522.60 L128.20,535.40 L123.60,535.40Z" fill="#000"/><rect x="55.50" y="523.80" width="23.20" height="10.40" fill="none" stroke="#000" stroke-width="2.4" rx="1"/>
<text x="93.40" y="534.80" font-size="18.5" font-weight="bold" font-style="italic">MeMAPKKK40</text>
<rect x="237.90" y="481.30" width="23.90" height="10.70" fill="#838383" stroke="#333" stroke-width="1.2" rx="1"/>
<text x="276.90" y="493.20" font-size="18.5" font-weight="bold" font-style="italic">MeMAPKKK18</text>
<rect x="239.20" y="502.40" width="23.70" height="10.80" fill="url(#pdotl)" stroke="#000" stroke-width="2" rx="1.5"/>
<text x="278.20" y="513.60" font-size="18.5" font-weight="bold" font-style="italic">MeMAPKKK30</text>
<rect x="422.90" y="479.20" width="24.90" height="12.60" fill="#000" rx="1.5"/>
<text x="461.70" y="491.30" font-size="18.5" font-weight="bold" font-style="italic">MeMAPKKK19</text>
<rect x="424.90" y="498.30" width="23.70" height="11.70" fill="#fff" stroke="#000" stroke-width="2" rx="1.5"/><rect x="425.90" y="503.55" width="21.70" height="1.2" fill="#444"/>
<text x="463.30" y="510.70" font-size="18.5" font-weight="bold" font-style="italic">MeMAPKKK32</text>
<text transform="translate(118.05,873.95) rotate(-45)" font-size="21.5" font-weight="normal" stroke="#000" stroke-width="0.85" text-anchor="end">NTC</text>
<text transform="translate(243.85,874.10) rotate(-45)" font-size="21.5" font-weight="normal" stroke="#000" stroke-width="0.85" text-anchor="end">2 h</text>
<text transform="translate(369.40,874.10) rotate(-45)" font-size="21.5" font-weight="normal" stroke="#000" stroke-width="0.85" text-anchor="end">6 h</text>
<text transform="translate(496.10,873.40) rotate(-45)" font-size="21.5" font-weight="normal" stroke="#000" stroke-width="0.85" text-anchor="end">10 h</text>
<text transform="translate(621.40,875.05) rotate(-45)" font-size="21.5" font-weight="normal" stroke="#000" stroke-width="0.85" text-anchor="end">24 h</text>
</svg></body></html>
